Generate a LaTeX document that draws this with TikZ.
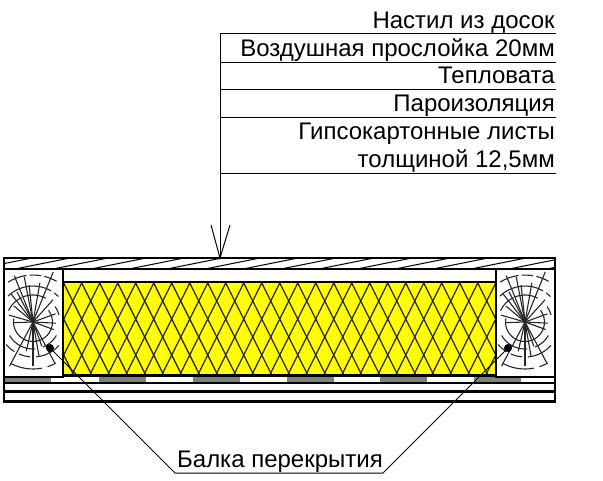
\documentclass[tikz,border=0pt]{standalone}
\usepackage{fontspec}
\setmainfont{Liberation Sans}
\definecolor{insul}{HTML}{FFFF00}
\definecolor{strip}{HTML}{808080}
\tikzset{
  thickline/.style={line width=2.4pt,draw=black},
  thinline/.style={line width=1pt,draw=black},
  woodline/.style={line width=1.1pt,draw=black!85},
  netline/.style={line width=1.25pt,draw=black!85},
  lbl/.style={anchor=base east,inner sep=0pt,font=\fontsize{24}{28}\selectfont},
  dotnode/.style={circle,fill=black,inner sep=0pt,minimum size=8pt},
}
\newcommand{\woodrings}[2]{%
\begin{scope}[shift={(#1,#2)}]
  \foreach \a/\r in {90/44,118/50,103/30,80/35,70/26,62/47,20/22,3/23,178/20,196/25,-20/24,-48/30,-68/54,-80/40,-96/37,-101/46,-118/34,-128/36,-140/25,-112/50}
    \draw[woodline] (0,0) -- (\a:\r);
  \draw[woodline] (-37:19.5) arc (-37:190:19.5);
  \draw[woodline] (-35:27) arc (-35:-15:27);
  \draw[woodline] (30:27) arc (30:68:27);
  \draw[woodline] (85:27) arc (85:150:27);
  \draw[woodline] (205:27) arc (205:245:27);
  \draw[woodline] (-112:27) arc (-112:-62:27);
  \draw[woodline] (42:35) arc (42:85:35);
  \draw[woodline] (95:35) arc (95:114:35);
  \draw[woodline] (122:35) arc (122:140:35);
  \draw[woodline] (-134:36) arc (-134:-60:36);
  \draw[woodline] (-54:36) arc (-54:-45:36);
  \draw[woodline] (61:47) arc (61:72:47);
  \draw[woodline] (79:47) arc (79:118:47);
  \draw[woodline] (-122:47) arc (-122:-98:47);
  \draw[woodline] (-94:47) arc (-94:-80:47);
  \draw[woodline] (-76:47) arc (-76:-60:47);
\end{scope}}
\begin{document}
\begin{tikzpicture}[x=1pt,y=-1pt]
\useasboundingbox (0,0) rectangle (603,480);
% insulation
\fill[insul] (64,282) rectangle (496,376);
\begin{scope}
  \clip (64,282) rectangle (496,376);
  \foreach \k in {-6,...,28}{
    \draw[netline] (81.7+18*\k,283) -- ++(50,100);
    \draw[netline] (81.7+18*\k,283) -- ++(-50,100);
  }
\end{scope}
% grey strips
\foreach \x in {4,99,193,287,380,474}
  \fill[strip] (\x,377) rectangle ++(47,5);
% top boards
\begin{scope}
  \clip (4,258) rectangle (555,269);
  \foreach \k in {-1,...,15}
    \draw[thinline] (15+38*\k,269) -- ++(75,-15);
\end{scope}
\draw[thickline] (4,258) rectangle (555,269);
% beams
\draw[thickline] (4,269) rectangle (63,377);
\draw[thickline] (496,269) rectangle (555,377);
\draw[thickline] (63,282) -- (496,282);
\draw[thickline] (63,375.5) -- (496,375.5);
\woodrings{33}{322}
\woodrings{525}{322}
% lower boards
\draw[thickline] (4,383) rectangle (555,401.5);
\draw[thickline] (4,391.5) -- (555,391.5);
\draw[line width=1.2pt] (4,377) -- (4,383) (555,377) -- (555,383);
% labels
\node[lbl] (t1) at (555,28) {Настил из досок};
\node[lbl] (t2) at (555,56) {Воздушная прослойка 20мм};
\node[lbl] (t3) at (555,83.5) {Тепловата};
\node[lbl] (t4) at (555,111) {Пароизоляция};
\node[lbl] (t5) at (555,139) {Гипсокартонные листы};
\node[lbl] (t6) at (555,167) {толщиной 12,5мм};
\node[lbl,anchor=base] (t7) at (280,467.5) {Балка перекрытия};
% leader lines on top
\coordinate (a1) at (220,33.5); \coordinate (b1) at (556,33.5);
\coordinate (a2) at (220,62); \coordinate (b2) at (556,62);
\coordinate (a3) at (220,89.5); \coordinate (b3) at (556,89.5);
\coordinate (a4) at (220,117); \coordinate (b4) at (556,117);
\coordinate (a5) at (220,173); \coordinate (b5) at (556,173);
\coordinate (tip) at (220,258);
\coordinate (hl) at (211,225); \coordinate (hr) at (230,225);
\draw[thinline] (a1) -- (b1) (a2) -- (b2) (a3) -- (b3) (a4) -- (b4) (a5) -- (b5);
\draw[thinline] (a1) -- (tip);
\draw[thinline] (hl) -- (tip) -- (hr);
\node[dotnode] (d1) at (50,348) {};
\node[dotnode] (d2) at (508,348) {};
\coordinate (l1) at (175,473); \coordinate (l2) at (383,473);
\draw[thinline] (d1) -- (l1) -- (l2) -- (d2);
\end{tikzpicture}
\end{document}
